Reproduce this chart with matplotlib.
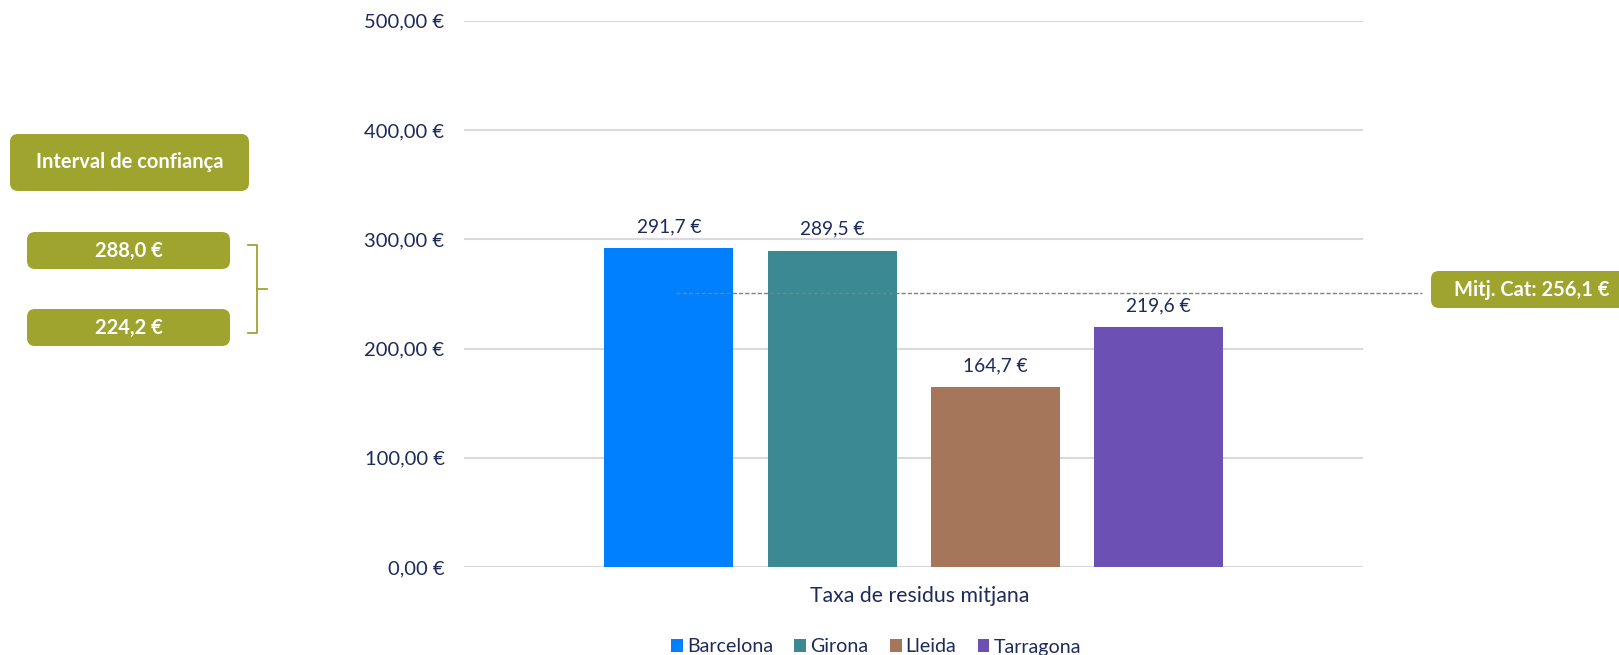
import numpy as np
import matplotlib
matplotlib.use("Agg")
import matplotlib.pyplot as plt
from matplotlib.patches import FancyBboxPatch, Patch
from matplotlib.transforms import blended_transform_factory

plt.rcParams['font.family'] = ['Lato', 'DejaVu Sans']

# data
provinces = ["Barcelona", "Girona", "Lleida", "Tarragona"]
values = [291.7, 289.5, 164.7, 219.6]
colors = ["#0080FF", "#3A8993", "#A5765A", "#6D50B3"]
mean_cat = 256.1
ci_high = 288.0
ci_low = 224.2
yticks = [0, 100, 200, 300, 400, 500]
category = "Taxa de residus mitjana"

navy = "#1F2A5C"
olive = "#9FA42F"
W, H = 1619, 655

fig = plt.figure(figsize=(W / 100, H / 100), dpi=100)

def fmt(v, dec):
    return (f"{v:.{dec}f}").replace(".", ",") + " €"

# main chart
ax = fig.add_axes([464 / W, 1 - 567 / H, 899 / W, 546.2 / H])
x = np.arange(len(values))
ax.bar(x, values, width=0.79, color=colors, zorder=3)
for xi, v in zip(x, values):
    ax.text(xi, v + 12, fmt(v, 1), ha="center", va="bottom", fontsize=13.8, color=navy)
ax.set_xlim(-1.255, 4.252)
ax.set_ylim(0, 500)
ax.set_yticks(yticks)
ax.set_yticklabels([fmt(t, 2) for t in yticks], fontsize=14.5, color=navy)
ax.tick_params(axis="y", length=0, pad=14)
ax.set_xticks([])
ax.grid(axis="y", color="#D9D9D9", linewidth=1.5, zorder=0)
for s in ax.spines.values():
    s.set_visible(False)
fig.text(920 / W, 1 - 596 / H, category, ha="center", va="center", fontsize=15.3, color=navy)

# overlay in pixel coords for boxes / annotations
ov = fig.add_axes([0, 0, 1, 1], zorder=5)
ov.set_xlim(0, W)
ov.set_ylim(H, 0)
ov.axis("off")
ov.patch.set_alpha(0)

def box(x0, y0, x1, y1, txt, tx=None):
    ov.add_patch(FancyBboxPatch((x0, y0), x1 - x0, y1 - y0,
                                boxstyle="round,pad=0,rounding_size=8",
                                facecolor=olive, edgecolor="none"))
    ov.text(tx if tx is not None else (x0 + x1) / 2, (y0 + y1) / 2, txt,
            ha="center", va="center", color="white", fontsize=14.5, fontweight="bold")

box(10, 134, 249, 191, "Interval de confiança")
box(27, 232, 230, 269, fmt(ci_high, 1))
box(27, 309, 230, 346, fmt(ci_low, 1))
box(1431, 271, 1640, 308, "Mitj. Cat: " + fmt(mean_cat, 1), tx=1532)

# bracket
ov.plot([248, 257, 257, 248], [245, 245, 333, 333], color=olive, lw=1.3)
ov.plot([257, 267], [289, 289], color=olive, lw=1.3)

# mean line
tr = blended_transform_factory(ov.transData, ax.transData)
ov.plot([676, 1422], [mean_cat - 5, mean_cat - 5], transform=tr,
        color="#808080", lw=1, linestyle=(0, (3, 1.5)))

# legend
handles = [Patch(facecolor=c, label=p) for c, p in zip(colors, provinces)]
fig.legend(handles=handles, loc="center", bbox_to_anchor=(876 / W, 1 - 647 / H),
           ncol=4, frameon=False, fontsize=14.1, handlelength=0.6, handleheight=0.6,
           handletextpad=0.2, columnspacing=1.1, labelcolor=navy)

fig.savefig("out.png", dpi=100)
